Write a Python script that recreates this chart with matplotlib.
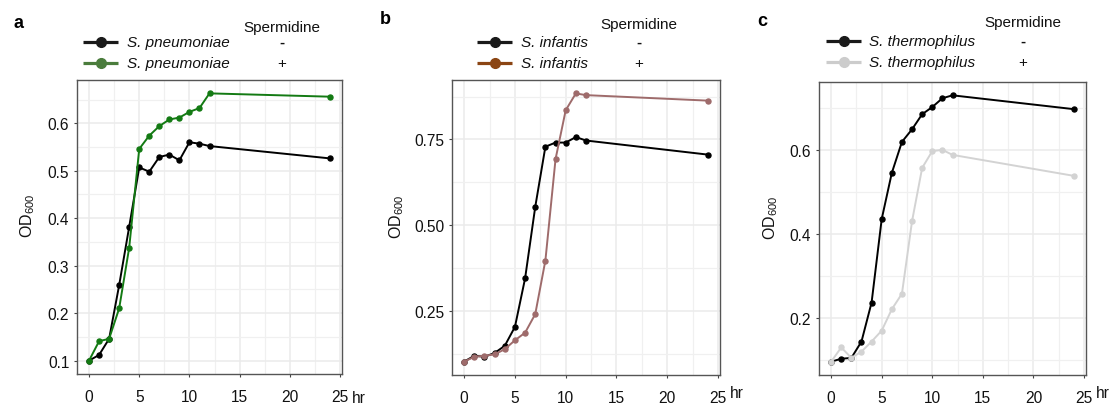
#!/usr/bin/env python3
# -*- coding: utf-8 -*-
#<----------------------------- Imports ------------------------------------>
import matplotlib
matplotlib.use("Agg")
import matplotlib.pyplot as plt
from matplotlib.lines import Line2D
from matplotlib.ticker import MultipleLocator, FixedLocator

plt.rcParams['font.family'] = ['Liberation Sans', 'DejaVu Sans']
plt.rcParams['mathtext.fontset'] = 'custom'
plt.rcParams['mathtext.rm'] = 'Liberation Sans'
plt.rcParams['mathtext.it'] = 'Liberation Sans:italic'

#<------------------------- Datos ----------------------------------------->
horas = [0, 1, 2, 3, 4, 5, 6, 7, 8, 9, 10, 11, 12, 24]

pneu_sin = [0.100, 0.112, 0.146, 0.259, 0.382, 0.507, 0.498, 0.529, 0.534,
            0.522, 0.560, 0.557, 0.552, 0.526]
pneu_con = [0.100, 0.141, 0.146, 0.210, 0.338, 0.546, 0.574, 0.594, 0.608,
            0.612, 0.624, 0.632, 0.663, 0.656]

inf_sin = [0.104, 0.121, 0.118, 0.129, 0.150, 0.205, 0.346, 0.554, 0.729,
           0.741, 0.741, 0.757, 0.747, 0.706]
inf_con = [0.104, 0.118, 0.121, 0.125, 0.140, 0.166, 0.188, 0.242, 0.398,
           0.693, 0.835, 0.884, 0.879, 0.863]

ther_sin = [0.095, 0.102, 0.104, 0.143, 0.236, 0.435, 0.545, 0.619, 0.649,
            0.685, 0.702, 0.723, 0.730, 0.697]
ther_con = [0.095, 0.129, 0.104, 0.119, 0.143, 0.169, 0.220, 0.257, 0.430,
            0.557, 0.597, 0.600, 0.588, 0.538]

especies = ['S. pneumoniae', 'S. infantis', 'S. thermophilus']
letras = ['a', 'b', 'c']
yticks = [[0.1, 0.2, 0.3, 0.4, 0.5, 0.6], [0.25, 0.50, 0.75], [0.2, 0.4, 0.6]]
yticklabels = [['0.1', '0.2', '0.3', '0.4', '0.5', '0.6'],
               ['0.25', '0.50', '0.75'], ['0.2', '0.4', '0.6']]
xticks = [0, 5, 10, 15, 20, 25]

#<------------------------- Estilos --------------------------------------->
W, H = 1118, 410
col_linea = [('#000000', '#137a13'), ('#000000', '#9e6b6b'), ('#000000', '#d3d3d3')]
col_leyenda = [('#1a1a1a', '#4a7c3c'), ('#1a1a1a', '#8b4513'), ('#1a1a1a', '#cccccc')]
# bordes de los paneles en pixeles (izq, der, arriba, abajo)
cajas = [(77, 342, 81, 375), (452, 720, 81, 376), (819, 1086, 83, 376)]
# leyenda: x inicio linea, x texto, y filas, x columna spermidine, y titulo
leyendas = [(83, 127, (43, 64), 282, 28), (477, 521, (43, 64), 639, 25),
            (826, 869, (42, 63), 1023, 23)]
pos_letra = [(18, 23), (385, 20), (762, 22)]
pos_ylabel = [-0.152, -0.172, -0.147]
hr_dy = [0, 4, 4]

series = [(pneu_sin, pneu_con), (inf_sin, inf_con), (ther_sin, ther_con)]

#<--------------------------- Plot ---------------------------------------->
fig = plt.figure(figsize=(W / 100, H / 100), dpi=100)

def fx(px):
    return px / W

def fy(py):
    return 1 - py / H

for i in range(3):
    l, r, t, b = cajas[i]
    ax = fig.add_axes([fx(l), fy(b), fx(r - l), (b - t) / H])
    sin, con = series[i]
    ax.plot(horas, sin, '-o', color=col_linea[i][0], lw=1.4, ms=3.6, zorder=3)
    ax.plot(horas, con, '-o', color=col_linea[i][1], lw=1.4, ms=3.6, zorder=3)

    todos = sin + con
    lo, hi = min(todos), max(todos)
    pad = (hi - lo) * 0.05
    ax.set_ylim(lo - pad, hi + pad)
    ax.set_xlim(-1.2, 25.2)

    ax.xaxis.set_major_locator(FixedLocator(xticks))
    ax.xaxis.set_minor_locator(MultipleLocator(2.5))
    ax.yaxis.set_major_locator(FixedLocator(yticks[i]))
    paso = yticks[i][1] - yticks[i][0]
    ax.yaxis.set_minor_locator(MultipleLocator(paso / 2))
    ax.set_yticklabels(yticklabels[i])
    ax.set_xticklabels([str(x) for x in xticks])

    ax.grid(True, which='major', color='#ebebeb', lw=1.1, zorder=0)
    ax.grid(True, which='minor', color='#f0f0f0', lw=0.9, zorder=0)
    ax.set_axisbelow(True)
    for s in ax.spines.values():
        s.set_color('#555555')
        s.set_linewidth(1.0)
    ax.tick_params(which='major', length=2.5, width=0.8, color='#444444',
                   labelsize=11.2, labelcolor='#111111')
    ax.tick_params(axis='x', pad=8.5)
    ax.tick_params(axis='y', pad=3)
    ax.tick_params(which='minor', length=0)

    ax.set_ylabel('OD$_{600}$', fontsize=11.5, color='#111111')
    ax.yaxis.set_label_coords(pos_ylabel[i], 0.54)

    ax.annotate('hr', xy=(1, 0), xycoords='axes fraction',
                xytext=(7, -11.5 + hr_dy[i]), textcoords='offset points',
                ha='left', va='top', fontsize=11.2, color='#111111')

    # leyenda manual
    x0, xt, filas, xs, ytit = leyendas[i]
    for k, yy in enumerate(filas):
        fig.add_artist(Line2D([fx(x0), fx(x0 + 35)], [fy(yy), fy(yy)],
                              color=col_leyenda[i][k], lw=2.3,
                              solid_capstyle='butt'))
        fig.add_artist(Line2D([fx(x0 + 17.5)], [fy(yy)], marker='o', ms=7,
                              color=col_leyenda[i][k], lw=0))
        fig.text(fx(xt), fy(yy), especies[i], style='italic', fontsize=11,
                 ha='left', va='center', color='#111111')
        fig.text(fx(xs), fy(yy), ['-', '+'][k], fontsize=11, ha='center',
                 va='center', color='#111111', fontweight='bold' if k == 0 else 'normal')
    fig.text(fx(xs), fy(ytit), 'Spermidine', fontsize=11, ha='center',
             va='center', color='#111111')

    fig.text(fx(pos_letra[i][0]), fy(pos_letra[i][1]), letras[i],
             fontsize=13, fontweight='bold', ha='center', va='center')

plt.savefig('out.png', dpi=100)
